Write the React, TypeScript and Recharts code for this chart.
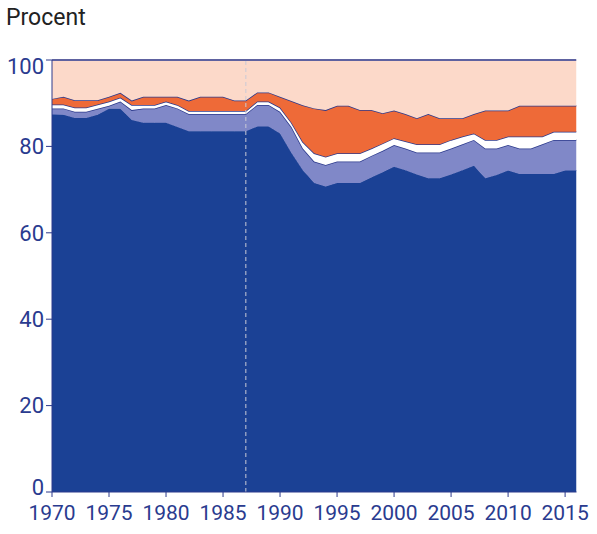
import React from "react";
import { AreaChart, Area, XAxis, YAxis, ReferenceLine } from "recharts";

const years = [
  1970, 1971, 1972, 1973, 1974, 1975, 1976, 1977, 1978, 1979,
  1980, 1981, 1982, 1983, 1984, 1985, 1986, 1987, 1988, 1989,
  1990, 1991, 1992, 1993, 1994, 1995, 1996, 1997, 1998, 1999,
  2000, 2001, 2002, 2003, 2004, 2005, 2006, 2007, 2008, 2009,
  2010, 2011, 2012, 2013, 2014, 2015, 2016,
];

const darkBlue = [
  87.4, 87.3, 86.6, 86.6, 87.3, 88.7, 88.7, 86.1, 85.5, 85.5,
  85.5, 84.5, 83.5, 83.5, 83.5, 83.5, 83.5, 83.5, 84.6, 84.6,
  83.0, 78.5, 74.5, 71.5, 70.7, 71.5, 71.5, 71.5, 72.8, 74.0,
  75.3, 74.5, 73.5, 72.6, 72.6, 73.5, 74.5, 75.5, 72.6, 73.4,
  74.4, 73.6, 73.6, 73.6, 73.6, 74.4, 74.4,
];

const purple = [
  1.4, 1.5, 1.4, 1.4, 1.4, 0.7, 1.7, 2.3, 3.3, 3.3,
  4.1, 4.3, 4.0, 4.0, 4.0, 4.0, 4.0, 4.0, 5.0, 5.0,
  5.0, 6.0, 5.0, 5.0, 5.0, 5.0, 5.0, 5.0, 5.0, 5.0,
  5.0, 5.0, 5.1, 6.0, 6.0, 6.0, 6.0, 6.0, 6.9, 6.1,
  5.9, 5.9, 5.9, 6.9, 7.9, 7.1, 7.1,
];

const white = [
  0.9, 0.9, 1.0, 1.0, 1.0, 1.0, 0.9, 1.2, 0.8, 0.8,
  0.8, 0.8, 0.7, 0.7, 0.7, 0.7, 0.7, 0.7, 0.8, 0.8,
  1.0, 1.0, 1.5, 1.9, 1.9, 1.9, 1.9, 1.9, 1.7, 1.7,
  1.6, 1.7, 1.9, 1.9, 1.9, 2.0, 1.8, 1.5, 2.0, 2.0,
  2.0, 2.8, 2.8, 1.8, 1.9, 1.9, 1.9,
];

const orange = [
  1.3, 1.8, 1.7, 1.7, 1.0, 1.1, 1.1, 1.0, 1.9, 1.9,
  1.1, 1.9, 2.4, 3.3, 3.3, 3.3, 2.4, 2.4, 2.1, 2.1,
  2.5, 5.0, 8.5, 10.4, 10.8, 11.0, 11.0, 10.0, 8.9, 7.0,
  6.4, 6.3, 6.0, 7.0, 6.0, 5.0, 4.2, 4.5, 6.8, 6.8,
  6.0, 7.1, 7.1, 7.1, 6.0, 6.0, 6.0,
];

const peach = [
  9.0, 8.5, 9.3, 9.3, 9.3, 8.5, 7.6, 9.4, 8.5, 8.5,
  8.5, 8.5, 9.4, 8.5, 8.5, 8.5, 9.4, 9.4, 7.5, 7.5,
  8.5, 9.5, 10.5, 11.2, 11.6, 10.6, 10.6, 11.6, 11.6, 12.3,
  11.7, 12.5, 13.5, 12.5, 13.5, 13.5, 13.5, 12.5, 11.7, 11.7,
  11.7, 10.6, 10.6, 10.6, 10.6, 10.6, 10.6,
];

const xTicks = [1970, 1975, 1980, 1985, 1990, 1995, 2000, 2005, 2010, 2015];
const yTicks = [0, 20, 40, 60, 80, 100];
const breakYear = 1987;

const data = years.map((year, i) => ({
  year,
  darkBlue: darkBlue[i],
  purple: purple[i],
  white: white[i],
  orange: orange[i],
  peach: peach[i],
}));

const NAVY = "#2c3a8c";
const TICK = "#2a3b8f";
const FONT = "Roboto, 'Noto Sans', sans-serif";

const YTick = (props: any) => {
  const { x, y, payload } = props;
  let shift = 0;
  if (payload.value === 100) shift = 6;
  if (payload.value === 0) shift = -5;
  return (
    <text
      x={x}
      y={y + shift}
      dy="0.355em"
      textAnchor="end"
      fill={TICK}
      fontSize={22}
      fontFamily={FONT}
    >
      {payload.value}
    </text>
  );
};

export default function App() {
  return (
    <div
      style={{
        position: "absolute",
        left: 0,
        top: 0,
        width: 597,
        height: 534,
        background: "#ffffff",
      }}
    >
      <div
        style={{
          position: "absolute",
          left: 6,
          top: 5,
          fontFamily: FONT,
          fontSize: 23,
          lineHeight: "26px",
          color: "#222222",
        }}
      >
        Procent
      </div>
      <AreaChart
        width={597}
        height={534}
        data={data}
        margin={{ top: 60, right: 20.5, bottom: 0, left: 0 }}
      >
        <XAxis
          dataKey="year"
          type="number"
          domain={[1970, 2016]}
          ticks={xTicks}
          allowDataOverflow
          height={42}
          tickSize={5}
          tickMargin={8}
          axisLine={{ stroke: NAVY }}
          tickLine={{ stroke: NAVY }}
          tick={{ fill: TICK, fontSize: 21, fontFamily: FONT }}
          interval={0}
        />
        <YAxis
          type="number"
          domain={[0, 100]}
          ticks={yTicks}
          width={52}
          tickSize={6}
          tickMargin={2}
          axisLine={{ stroke: NAVY }}
          tickLine={{ stroke: NAVY }}
          tick={<YTick />}
          interval={0}
        />
        <Area
          type="linear"
          dataKey="darkBlue"
          stackId="s"
          fill="#1b4195"
          fillOpacity={1}
          stroke="#1b4195"
          strokeWidth={1}
          isAnimationActive={false}
          dot={false}
          activeDot={false}
        />
        <Area
          type="linear"
          dataKey="purple"
          stackId="s"
          fill="#8088c8"
          fillOpacity={1}
          stroke={NAVY}
          strokeWidth={1.5}
          isAnimationActive={false}
          dot={false}
          activeDot={false}
        />
        <Area
          type="linear"
          dataKey="white"
          stackId="s"
          fill="#ffffff"
          fillOpacity={1}
          stroke={NAVY}
          strokeWidth={1.5}
          isAnimationActive={false}
          dot={false}
          activeDot={false}
        />
        <Area
          type="linear"
          dataKey="orange"
          stackId="s"
          fill="#ee6a38"
          fillOpacity={1}
          stroke={NAVY}
          strokeWidth={1.5}
          isAnimationActive={false}
          dot={false}
          activeDot={false}
        />
        <Area
          type="linear"
          dataKey="peach"
          stackId="s"
          fill="#fcd9c9"
          fillOpacity={1}
          stroke="#5e62a0"
          strokeWidth={2}
          isAnimationActive={false}
          dot={false}
          activeDot={false}
        />
        <ReferenceLine
          x={breakYear}
          stroke="#c9c9d6"
          strokeWidth={1}
          strokeDasharray="4 3"
        />
      </AreaChart>
    </div>
  );
}
